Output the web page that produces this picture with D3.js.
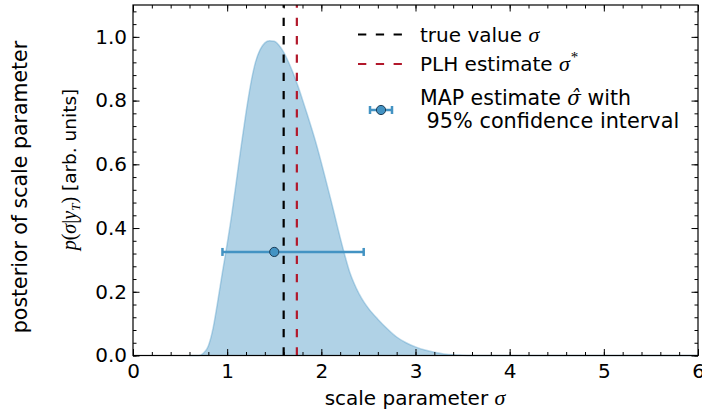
<!DOCTYPE html>
<html><head><meta charset="utf-8">
<script src="https://cdn.jsdelivr.net/npm/d3@7"></script>
<style>
body{margin:0;background:#fff}
svg{display:block}
text{font-family:"DejaVu Sans",sans-serif;fill:#000}
.math{font-family:"Liberation Serif","DejaVu Serif",serif;font-style:italic}
.mathr{font-family:"Liberation Serif","DejaVu Serif",serif}
</style>
</head><body>
<script>
// ---- data ----
const sigmaGrid = [0.60,0.70,0.75,0.80,0.85,0.90,0.95,1.00,1.05,1.10,1.15,1.20,1.25,1.30,1.35,1.40,1.45,1.50,1.55,1.60,1.65,1.70,1.75,1.80,1.85,1.90,1.95,2.00,2.05,2.10,2.15,2.20,2.25,2.30,2.35,2.40,2.45,2.50,2.60,2.70,2.80,2.90,3.00,3.10,3.20,3.30,3.40,3.50,3.70,4.00,5.00,6.00];
const posterior = [0.000,0.000,0.008,0.030,0.085,0.170,0.262,0.350,0.445,0.552,0.660,0.762,0.852,0.920,0.960,0.981,0.988,0.986,0.974,0.952,0.922,0.887,0.847,0.803,0.757,0.710,0.660,0.605,0.548,0.490,0.430,0.370,0.314,0.263,0.225,0.194,0.169,0.148,0.114,0.084,0.058,0.040,0.027,0.017,0.010,0.005,0.002,0.001,0.000,0.000,0.000,0.000];
const trueValue = 1.60;
const plhEstimate = 1.74;
const mapEstimate = [1.50];
const mapLevel = [0.325];
const ciLow = [0.95];
const ciHigh = [2.45];
const xTicks = [0,1,2,3,4,5,6];
const yTicks = [0.0,0.2,0.4,0.6,0.8,1.0];
const legendLabels = ["true value ", "PLH estimate ", "MAP estimate ", " 95% confidence interval"];

const W = 702, H = 414;
const svg = d3.select("body").append("svg").attr("width", W).attr("height", H);
const x = d3.scaleLinear().domain([0, 6]).range([133, 698]);
const y = d3.scaleLinear().domain([0, 1.1]).range([355.5, 5]);

const blue = "#4393c3", red = "#b2182b";

// filled posterior
const pts = sigmaGrid.map((s, i) => [s, posterior[i]]);
const area = d3.area().x(d => x(d[0])).y0(y(0)).y1(d => y(d[1])).curve(d3.curveMonotoneX);
const line = d3.line().x(d => x(d[0])).y(d => y(d[1])).curve(d3.curveMonotoneX);
svg.append("path").datum(pts).attr("d", area).attr("fill", blue).attr("fill-opacity", 0.42);
svg.append("path").datum(pts).attr("d", line).attr("fill", "none").attr("stroke", blue).attr("stroke-opacity", 0.35).attr("stroke-width", 1.5);

// vertical dashed lines (drawn bottom to top)
function vline(v, col) {
  svg.append("path")
    .attr("d", `M${x(v)},${y(0)}V${y(1.1)}`)
    .attr("stroke", col).attr("stroke-width", 2.2)
    .attr("stroke-dasharray", "8.3,10").attr("fill", "none");
}
vline(trueValue, "#000");
vline(plhEstimate, red);

// error bar with marker
const eb = svg.append("g");
mapEstimate.forEach((m, i) => {
  const yy = y(mapLevel[i]);
  eb.append("line").attr("x1", x(ciLow[i])).attr("x2", x(ciHigh[i])).attr("y1", yy).attr("y2", yy)
    .attr("stroke", blue).attr("stroke-width", 2.5);
  [ciLow[i], ciHigh[i]].forEach(c => eb.append("line").attr("x1", x(c)).attr("x2", x(c)).attr("y1", yy - 4).attr("y2", yy + 4)
    .attr("stroke", blue).attr("stroke-width", 2.5));
  eb.append("circle").attr("cx", x(m)).attr("cy", yy).attr("r", 4.6)
    .attr("fill", blue).attr("stroke", "#1d3d57").attr("stroke-width", 1);
});

// axes (inward ticks on all four sides)
const xMinor = d3.range(0, 6.0001, 0.2);
const yMinor = d3.range(0, 1.1001, 0.04);
const fmtY = d3.format(".1f");
function styleAxis(g) { g.select(".domain").remove(); g.selectAll("line").attr("stroke", "#000").attr("stroke-width", 1); g.selectAll("text").attr("font-size", 20).attr("font-family", "DejaVu Sans").attr("fill", "#000"); }
svg.append("g").attr("transform", `translate(0,${y(0)})`).call(d3.axisBottom(x).tickValues(xMinor).tickSize(-3.5).tickFormat("")).call(styleAxis);
svg.append("g").attr("transform", `translate(0,${y(0)})`).call(d3.axisBottom(x).tickValues(xTicks).tickSize(-6.5).tickPadding(8).tickFormat(d3.format("d"))).call(styleAxis);
svg.append("g").attr("transform", `translate(0,${y(1.1)})`).call(d3.axisTop(x).tickValues(xMinor).tickSize(-3.5).tickFormat("")).call(styleAxis);
svg.append("g").attr("transform", `translate(0,${y(1.1)})`).call(d3.axisTop(x).tickValues(xTicks).tickSize(-6.5).tickFormat("")).call(styleAxis);
svg.append("g").attr("transform", `translate(${x(0)},0)`).call(d3.axisLeft(y).tickValues(yMinor).tickSize(-3.5).tickFormat("")).call(styleAxis);
svg.append("g").attr("transform", `translate(${x(0)},0)`).call(d3.axisLeft(y).tickValues(yTicks).tickSize(-6.5).tickPadding(6).tickFormat(fmtY)).call(styleAxis);
svg.append("g").attr("transform", `translate(${x(6)},0)`).call(d3.axisRight(y).tickValues(yMinor).tickSize(-3.5).tickFormat("")).call(styleAxis);
svg.append("g").attr("transform", `translate(${x(6)},0)`).call(d3.axisRight(y).tickValues(yTicks).tickSize(-6.5).tickFormat("")).call(styleAxis);

// frame
svg.append("rect").attr("x", x(0)).attr("y", y(1.1)).attr("width", x(6) - x(0)).attr("height", y(0) - y(1.1))
  .attr("fill", "none").attr("stroke", "#000").attr("stroke-width", 1.2);

// x label
const xl = svg.append("text").attr("x", 415).attr("y", 405).attr("text-anchor", "middle").attr("font-size", 20);
xl.append("tspan").text("scale parameter ");
xl.append("tspan").attr("class", "math").attr("font-size", 22).text("σ");

// y labels
svg.append("text").attr("transform", "translate(27,187) rotate(-90)").attr("text-anchor", "middle").attr("font-size", 20.5)
  .text("posterior of scale parameter");
const yl2 = svg.append("text").attr("transform", "translate(76,169.5) rotate(-90)").attr("text-anchor", "middle").attr("font-size", 18.5);
yl2.append("tspan").attr("class", "math").attr("font-size", 20).text("p");
yl2.append("tspan").attr("class", "mathr").attr("font-size", 20).text("(");
yl2.append("tspan").attr("class", "math").attr("font-size", 20).text("σ");
yl2.append("tspan").attr("class", "mathr").attr("font-size", 20).text("|");
yl2.append("tspan").attr("class", "math").attr("font-size", 20).text("y");
yl2.append("tspan").attr("class", "math").attr("font-size", 13).attr("dy", 4).text("T");
yl2.append("tspan").attr("class", "mathr").attr("font-size", 20).attr("dy", -4).text(")");
yl2.append("tspan").text(" [arb. units]");

// legend
const lg = svg.append("g");
lg.append("path").attr("d", "M358,34.5H402").attr("stroke", "#000").attr("stroke-width", 2.2).attr("stroke-dasharray", "8.3,9.5");
lg.append("path").attr("d", "M358,64H402").attr("stroke", red).attr("stroke-width", 2.2).attr("stroke-dasharray", "8.3,9.5");
const t1 = lg.append("text").attr("x", 420).attr("y", 41.5).attr("font-size", 20);
t1.append("tspan").text(legendLabels[0]); t1.append("tspan").attr("class", "math").attr("font-size", 22).text("σ");
const t2 = lg.append("text").attr("x", 420).attr("y", 71).attr("font-size", 20);
t2.append("tspan").text(legendLabels[1]); t2.append("tspan").attr("class", "math").attr("font-size", 22).text("σ");
t2.append("tspan").attr("class", "mathr").attr("font-size", 15).attr("dx", 1).attr("dy", -9).text("*");
const t3 = lg.append("text").attr("x", 420).attr("y", 105).attr("font-size", 20.5);
t3.append("tspan").text(legendLabels[2]);
t3.append("tspan").attr("font-family", "DejaVu Serif").attr("font-style", "italic").attr("font-size", 20).text("σ\u0302");
t3.append("tspan").text(" with");
lg.append("text").attr("x", 420).attr("y", 128).attr("font-size", 20.8).style("white-space", "pre").text(legendLabels[3]);
// legend errorbar icon
lg.append("line").attr("x1", 370).attr("x2", 392).attr("y1", 110).attr("y2", 110).attr("stroke", blue).attr("stroke-width", 2.5);
[370, 392].forEach(c => lg.append("line").attr("x1", c).attr("x2", c).attr("y1", 106).attr("y2", 114).attr("stroke", blue).attr("stroke-width", 2.5));
lg.append("circle").attr("cx", 381).attr("cy", 110).attr("r", 4.6).attr("fill", blue).attr("stroke", "#1d3d57").attr("stroke-width", 1);
</script>
</body></html>
